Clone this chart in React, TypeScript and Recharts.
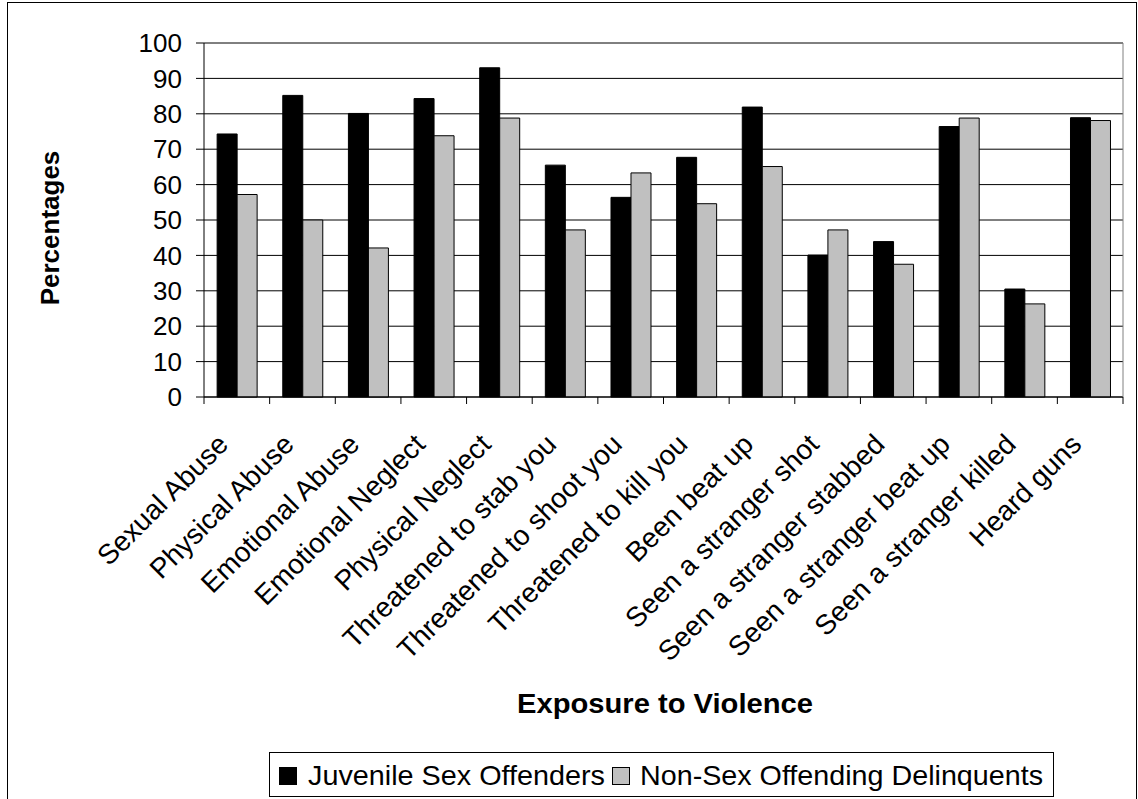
import React from "react"
import { BarChart, Bar, XAxis, YAxis, CartesianGrid, ReferenceLine } from "recharts"

const categories = [
  "Sexual Abuse",
  "Physical Abuse",
  "Emotional Abuse",
  "Emotional Neglect",
  "Physical Neglect",
  "Threatened to stab you",
  "Threatened to shoot you",
  "Threatened to kill you",
  "Been beat up",
  "Seen a stranger shot",
  "Seen a stranger stabbed",
  "Seen a stranger beat up",
  "Seen a stranger killed",
  "Heard guns",
]

const juvenileSexOffenders = [74.3, 85.2, 80.1, 84.3, 93.0, 65.5, 56.4, 67.7, 81.9, 40.1, 43.9, 76.4, 30.5, 78.9]
const nonSexOffending = [57.2, 50.0, 42.1, 73.8, 78.8, 47.2, 63.3, 54.6, 65.1, 47.2, 37.5, 78.8, 26.3, 78.1]

const yTicks = [0, 10, 20, 30, 40, 50, 60, 70, 80, 90, 100]

const seriesNames = ["Juvenile Sex Offenders", "Non-Sex Offending Delinquents"]

const data = categories.map((name, i) => ({
  name,
  jso: juvenileSexOffenders[i],
  nso: nonSexOffending[i],
}))

const FONT = "'Liberation Sans', Arial, sans-serif"
const W = 1138
const H = 799
const PLOT_LEFT = 204
const PLOT_RIGHT = 1123
const PLOT_TOP = 43
const PLOT_BOTTOM = 397
const BAND = (PLOT_RIGHT - PLOT_LEFT) / categories.length

function CategoryTick(props: any) {
  const { x, y, payload, index } = props
  const half = BAND / 2
  return (
    <g>
      <line x1={x - half} x2={x - half} y1={y} y2={y + 7} stroke="#000" />
      {index === categories.length - 1 && (
        <line x1={x + half} x2={x + half} y1={y} y2={y + 7} stroke="#000" />
      )}
      <text
        transform={`translate(${x - 7},${y + 49}) rotate(-45)`}
        textAnchor="end"
        fontSize={28}
        fontFamily={FONT}
        fill="#000"
      >
        {payload.value}
      </text>
    </g>
  )
}

export default function App() {
  return (
    <div style={{ position: "absolute", left: 0, top: 0, width: W, height: H, background: "#fff" }}>
      <BarChart
        width={W}
        height={H}
        data={data}
        margin={{ top: PLOT_TOP, right: 0, left: 0, bottom: 0 }}
        barCategoryGap="20%"
        barGap={0}
      >
        <CartesianGrid vertical={false} stroke="#000" strokeWidth={1} />
        <XAxis
          dataKey="name"
          interval={0}
          height={H - PLOT_BOTTOM}
          tickSize={0}
          tickMargin={0}
          tickLine={false}
          axisLine={{ stroke: "#000" }}
          tick={<CategoryTick />}
        />
        <YAxis
          width={PLOT_LEFT}
          domain={[0, 100]}
          ticks={yTicks}
          interval={0}
          tickSize={8}
          tickMargin={14}
          axisLine={{ stroke: "#000" }}
          tickLine={{ stroke: "#000" }}
          tick={{ fontSize: 26, fontFamily: FONT, fill: "#000" }}
        />
        <YAxis
          yAxisId="right"
          orientation="right"
          width={W - PLOT_RIGHT}
          domain={[0, 100]}
          tick={false}
          tickLine={false}
          axisLine={{ stroke: "#808080" }}
        />
        <ReferenceLine y={100} stroke="#808080" />
        <Bar dataKey="jso" name={seriesNames[0]} fill="#000" stroke="#000" strokeWidth={1} isAnimationActive={false} />
        <Bar dataKey="nso" name={seriesNames[1]} fill="#C0C0C0" stroke="#000" strokeWidth={1} isAnimationActive={false} />
      </BarChart>

      <svg
        width={W}
        height={H}
        style={{ position: "absolute", left: 0, top: 0, pointerEvents: "none" }}
        fontFamily={FONT}
      >
        <rect x={7.5} y={2.5} width={1129} height={820} fill="none" stroke="#000" />
        <text
          transform="translate(59,228) rotate(-90)"
          textAnchor="middle"
          fontSize={26}
          fontWeight="bold"
        >
          Percentages
        </text>
        <text x={665} y={713} textAnchor="middle" fontSize={27} fontWeight="bold" textLength={296} lengthAdjust="spacingAndGlyphs">
          Exposure to Violence
        </text>

        {/* legend */}
        <rect x={269.5} y={752.5} width={784} height={44} fill="#fff" stroke="#000" />
        <rect x={279.5} y={767.5} width={17} height={17} fill="#000" stroke="#000" />
        <text x={308} y={785} fontSize={28} textLength={297} lengthAdjust="spacingAndGlyphs">
          {seriesNames[0]}
        </text>
        <rect x={612.5} y={767.5} width={17} height={17} fill="#C0C0C0" stroke="#000" />
        <text x={640} y={785} fontSize={28} textLength={403} lengthAdjust="spacingAndGlyphs">
          {seriesNames[1]}
        </text>
      </svg>
    </div>
  )
}
